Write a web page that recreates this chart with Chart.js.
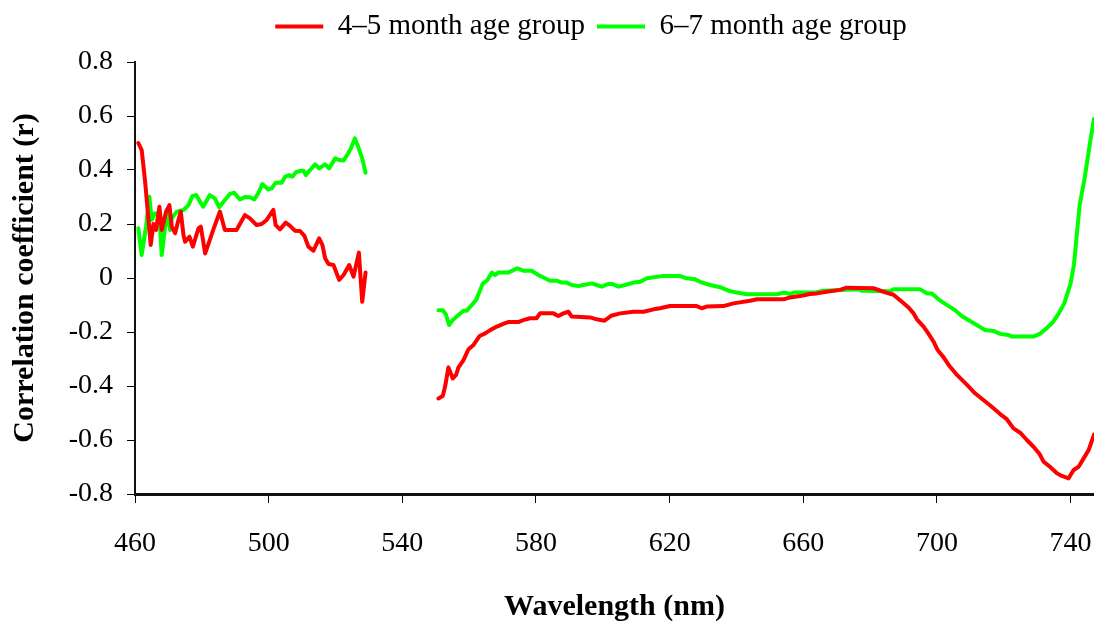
<!DOCTYPE html>
<html>
<head>
<meta charset="utf-8">
<title>Correlation coefficient vs wavelength</title>
<script src="https://cdn.jsdelivr.net/npm/chart.js@4/dist/chart.umd.min.js"></script>
<style>
  html, body { margin: 0; padding: 0; background: #fff; }
  #chart { display: block; }
</style>
</head>
<body>
<canvas id="chart" width="1094" height="625"></canvas>
<script>
// Wavelengths (nm) and correlation coefficients, 4–5 month age group
const wl45Short = [461.0, 462.0, 463.0, 463.7, 464.7, 465.5, 466.3, 467.3, 468.0, 469.3, 470.3, 471.0, 472.0, 473.0, 473.7, 474.5, 475.0, 476.3, 477.3, 479.0, 479.7, 481.0, 482.4, 483.4, 485.4, 486.9, 490.4, 492.9, 494.4, 496.4, 497.9, 499.4, 501.4, 502.1, 503.4, 505.1, 506.4, 507.9, 509.4, 510.7, 511.9, 513.4, 515.1, 516.1, 516.9, 517.9, 519.4, 521.1, 522.4, 524.1, 525.4, 527.0, 528.0, 529.0];
const r45Short  = [0.50, 0.474, 0.36, 0.264, 0.122, 0.20, 0.178, 0.264, 0.178, 0.246, 0.27, 0.19, 0.166, 0.215, 0.246, 0.159, 0.134, 0.153, 0.116, 0.184, 0.19, 0.091, 0.141, 0.178, 0.246, 0.178, 0.178, 0.233, 0.221, 0.196, 0.20, 0.215, 0.252, 0.196, 0.18, 0.205, 0.193, 0.175, 0.174, 0.156, 0.116, 0.101, 0.147, 0.122, 0.073, 0.052, 0.048, -0.007, 0.011, 0.048, 0.005, 0.094, -0.088, 0.02];

const wl45Long = [550.8, 552.1, 552.8, 553.8, 555.1, 556.1, 556.8, 558.3, 559.8, 561.3, 563.1, 564.8, 566.3, 568.3, 570.2, 571.7, 574.7, 576.2, 578.2, 580.2, 581.2, 585.2, 586.7, 588.2, 589.7, 590.7, 596.2, 598.2, 600.5, 602.5, 605.2, 609.2, 612.2, 615.2, 617.1, 620.1, 628.1, 629.6, 631.1, 636.1, 639.1, 644.1, 646.1, 654.1, 656.1, 659.1, 662.0, 664.0, 667.0, 671.0, 673.0, 681.0, 685.0, 687.0, 689.5, 691.5, 693.0, 694.0, 696.0, 697.5, 699.0, 700.2, 702.0, 703.5, 706.0, 709.0, 711.4, 713.9, 716.4, 718.9, 720.9, 722.9, 724.9, 726.9, 728.9, 730.7, 731.9, 733.9, 735.9, 737.4, 739.4, 740.9, 742.4, 743.9, 745.4, 747.0];
const r45Long  = [-0.446, -0.437, -0.402, -0.331, -0.372, -0.359, -0.331, -0.304, -0.264, -0.248, -0.215, -0.205, -0.193, -0.18, -0.17, -0.163, -0.163, -0.156, -0.149, -0.149, -0.131, -0.131, -0.141, -0.131, -0.125, -0.143, -0.146, -0.153, -0.158, -0.14, -0.131, -0.125, -0.125, -0.116, -0.112, -0.104, -0.104, -0.112, -0.106, -0.104, -0.094, -0.084, -0.079, -0.079, -0.072, -0.067, -0.059, -0.057, -0.051, -0.044, -0.036, -0.038, -0.055, -0.062, -0.088, -0.109, -0.131, -0.153, -0.18, -0.207, -0.236, -0.267, -0.294, -0.322, -0.359, -0.396, -0.427, -0.452, -0.477, -0.504, -0.523, -0.557, -0.573, -0.60, -0.625, -0.652, -0.68, -0.70, -0.723, -0.733, -0.742, -0.711, -0.699, -0.668, -0.637, -0.58];

// Wavelengths (nm) and correlation coefficients, 6–7 month age group
const wl67Short = [461.0, 462.0, 463.3, 464.3, 465.0, 466.0, 467.3, 468.0, 469.0, 469.7, 470.5, 471.0, 472.5, 474.5, 476.0, 477.2, 478.3, 480.4, 482.4, 483.9, 485.2, 486.9, 488.4, 489.7, 491.4, 492.9, 494.4, 495.7, 496.9, 498.1, 499.9, 500.9, 502.1, 503.9, 504.9, 506.1, 507.1, 508.1, 509.4, 510.4, 511.1, 512.4, 513.9, 515.1, 516.9, 518.1, 519.9, 521.1, 522.4, 523.8, 524.6, 525.8, 526.8, 528.0, 529.0];
const r67Short  = [0.184, 0.085, 0.19, 0.301, 0.215, 0.24, 0.233, 0.085, 0.19, 0.246, 0.178, 0.221, 0.246, 0.252, 0.27, 0.304, 0.307, 0.264, 0.307, 0.295, 0.262, 0.289, 0.311, 0.316, 0.291, 0.30, 0.299, 0.291, 0.314, 0.348, 0.328, 0.332, 0.353, 0.353, 0.375, 0.381, 0.375, 0.391, 0.397, 0.397, 0.381, 0.40, 0.421, 0.406, 0.421, 0.406, 0.443, 0.437, 0.435, 0.462, 0.48, 0.517, 0.486, 0.443, 0.39];

const wl67Long = [550.8, 552.1, 553.1, 554.0, 555.1, 556.8, 558.3, 559.3, 560.8, 562.1, 563.1, 564.1, 565.3, 566.8, 567.8, 568.7, 571.7, 574.4, 576.2, 578.7, 580.7, 582.7, 584.2, 586.2, 587.7, 589.2, 590.7, 592.7, 594.2, 596.7, 598.2, 599.7, 601.7, 602.7, 604.7, 606.7, 609.2, 611.2, 613.2, 617.7, 623.2, 625.1, 627.6, 629.1, 632.1, 635.1, 637.6, 640.1, 643.1, 652.1, 654.1, 656.1, 657.1, 664.0, 666.0, 676.5, 677.5, 686.0, 687.0, 695.0, 697.0, 698.4, 701.0, 703.5, 705.4, 707.4, 709.9, 711.9, 714.4, 716.9, 718.9, 721.4, 722.4, 728.9, 730.9, 732.9, 734.6, 736.6, 738.1, 740.0, 741.0, 742.7, 744.2, 745.8, 747.0];
const r67Long  = [-0.119, -0.119, -0.137, -0.174, -0.156, -0.137, -0.121, -0.121, -0.10, -0.081, -0.051, -0.02, -0.01, 0.02, 0.011, 0.02, 0.02, 0.036, 0.027, 0.027, 0.011, -0.001, -0.01, -0.01, -0.017, -0.017, -0.026, -0.03, -0.026, -0.02, -0.026, -0.032, -0.022, -0.022, -0.032, -0.026, -0.017, -0.014, -0.001, 0.007, 0.007, -0.001, -0.005, -0.014, -0.026, -0.034, -0.047, -0.054, -0.06, -0.06, -0.054, -0.059, -0.054, -0.053, -0.047, -0.042, -0.047, -0.049, -0.042, -0.042, -0.057, -0.057, -0.084, -0.104, -0.119, -0.141, -0.159, -0.174, -0.193, -0.196, -0.207, -0.211, -0.217, -0.217, -0.206, -0.185, -0.165, -0.128, -0.094, -0.02, 0.05, 0.27, 0.37, 0.50, 0.59];

// Axis settings
const xMin = 460, xMax = 747;
const xTickValues = [460, 500, 540, 580, 620, 660, 700, 740];
const yMin = -0.8, yMax = 0.8, yStep = 0.2;
const seriesNames = ['4\u20135 month age group', '6\u20137 month age group'];
const seriesColors = ['#FF0000', '#00FF00'];

// Two measured wavelength ranges; a null point breaks the line between them
function segments(wlA, rA, wlB, rB) {
  const pts = wlA.map((w, i) => ({ x: w, y: rA[i] }));
  pts.push({ x: (wlA[wlA.length - 1] + wlB[0]) / 2, y: null });
  return pts.concat(wlB.map((w, i) => ({ x: w, y: rB[i] })));
}

const FONT = "'Liberation Serif', 'Times New Roman', Times, serif";
Chart.defaults.font.family = FONT;
Chart.defaults.color = '#000';

// Extra room under the legend and a small horizontal offset for it
const legendPlacement = {
  id: 'legendPlacement',
  beforeLayout(chart) {
    const lg = chart.legend;
    if (lg && !lg._patchedFit) {
      const fit = lg.fit.bind(lg);
      lg.fit = function () { fit(); this.height += 11; };
      lg._patchedFit = true;
    }
  },
  afterLayout(chart) {
    const lg = chart.legend;
    if (lg) { lg.left += 44; lg.right += 44; }
  }
};

new Chart(document.getElementById('chart'), {
  type: 'line',
  data: {
    datasets: [
      {
        label: seriesNames[0],
        data: segments(wl45Short, r45Short, wl45Long, r45Long),
        borderColor: seriesColors[0],
        backgroundColor: seriesColors[0],
        borderWidth: 4,
        borderJoinStyle: 'round',
        borderCapStyle: 'round',
        pointRadius: 0,
        tension: 0,
        spanGaps: false
      },
      {
        label: seriesNames[1],
        data: segments(wl67Short, r67Short, wl67Long, r67Long),
        borderColor: seriesColors[1],
        backgroundColor: seriesColors[1],
        borderWidth: 4,
        borderJoinStyle: 'round',
        borderCapStyle: 'round',
        pointRadius: 0,
        tension: 0,
        spanGaps: false
      }
    ]
  },
  options: {
    responsive: false,
    animation: false,
    layout: { padding: 0 },
    plugins: {
      legend: {
        position: 'top',
        labels: {
          font: { size: 29 },
          color: '#000',
          boxWidth: 48,
          boxHeight: 4,
          padding: 12,
          generateLabels(chart) {
            return chart.data.datasets.map((ds, i) => ({
              text: ds.label,
              fillStyle: ds.borderColor,
              strokeStyle: ds.borderColor,
              lineWidth: 0,
              fontColor: '#000',
              hidden: false,
              datasetIndex: i
            }));
          }
        }
      },
      tooltip: { enabled: false }
    },
    scales: {
      x: {
        type: 'linear',
        min: xMin,
        max: xMax,
        afterBuildTicks(scale) {
          scale.ticks = xTickValues.map(v => ({ value: v }));
        },
        ticks: {
          autoSkip: false,
          maxRotation: 0,
          padding: 24,
          font: { size: 28 },
          color: '#000'
        },
        grid: { display: true, drawOnChartArea: false, drawTicks: true, tickLength: 9, color: '#000', lineWidth: 1 },
        border: { display: true, color: '#111', width: 3 },
        title: { display: true, text: 'Wavelength (nm)', font: { size: 30, weight: 'bold' }, color: '#000', padding: { top: 0, bottom: 0 } },
        afterFit(scale) {
          scale.height = 131;
          scale.paddingLeft = 0;
          scale.paddingRight = 0;
        }
      },
      y: {
        min: yMin,
        max: yMax,
        ticks: {
          stepSize: yStep,
          padding: 14,
          font: { size: 28 },
          color: '#000',
          callback: v => (Math.abs(v) < 1e-9 ? '0' : Number(v).toFixed(1))
        },
        grid: { display: true, drawOnChartArea: false, drawTicks: true, tickLength: 8, color: '#000', lineWidth: 1 },
        border: { display: true, color: '#111', width: 2 },
        title: { display: true, text: 'Correlation coefficient (r)', font: { size: 30, weight: 'bold' }, color: '#000', padding: { top: 7, bottom: 0 } },
        afterFit(scale) { scale.width = 135; }
      }
    }
  },
  plugins: [legendPlacement]
});
</script>
</body>
</html>
